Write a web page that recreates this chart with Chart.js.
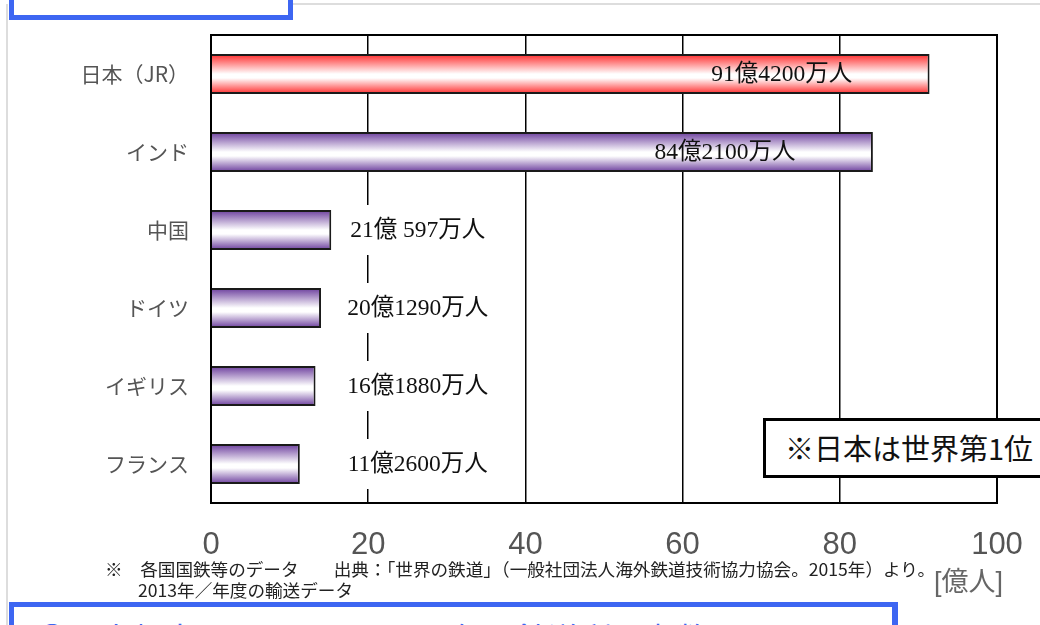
<!DOCTYPE html>
<html>
<head>
<meta charset="utf-8">
<script src="https://cdn.jsdelivr.net/npm/chart.js@4/dist/chart.umd.min.js"></script>
<style>
body{margin:0;background:#fff;font-family:"Noto Sans CJK JP",sans-serif;}
#wrap{position:relative;width:1040px;height:625px;overflow:hidden;}
#myChart{position:absolute;left:0;top:0;}
.frameL{position:absolute;left:6px;top:4px;width:2px;height:625px;background:#ddd;}
.frameT{position:absolute;left:290px;top:3px;width:760px;height:2px;background:#ddd;}
.boxTop{position:absolute;left:9px;top:-20px;width:274px;height:30px;border:5px solid #3d66f2;background:#fff;}
.boxBot{position:absolute;left:9px;top:602px;width:878px;height:60px;border:5px solid #3d66f2;border-right-width:6px;background:#fff;}
.boxBot span{position:absolute;left:22px;top:10px;font-size:32px;line-height:40px;color:#3d66f2;white-space:nowrap;}
.note{position:absolute;left:763px;top:418px;width:300px;height:54px;border:3px solid #000;background:#fff;}
.note span{position:absolute;left:19px;top:5px;font-size:29px;color:#111;white-space:nowrap;}
.unit{position:absolute;left:934px;top:560px;font-size:27px;color:#666;font-family:"Liberation Sans","Noto Sans CJK JP",sans-serif;}
.foot{position:absolute;left:105px;font-size:17.6px;color:#222;white-space:nowrap;line-height:21px;}
</style>
</head>
<body>
<div id="wrap">
<div class="frameL"></div>
<div class="frameT"></div>
<div class="boxTop"></div>
<canvas id="myChart" width="1040" height="625"></canvas>
<div class="note"><span>※日本は世界第1位</span></div>
<div class="foot" style="top:558px">※　各国国鉄等のデータ　　出典：「世界の鉄道」（一般社団法人海外鉄道技術協力協会。2015年）より。</div>
<div class="foot" style="top:579px;left:138px">2013年／年度の輸送データ</div>
<div class="unit">[億人]</div>
<div class="boxBot"><span>②三大都市圏における人口と年間鉄道利用者数</span></div>
</div>
<script>
var categories = ['日本（JR）','インド','中国','ドイツ','イギリス','フランス'];
// bar lengths as drawn in the picture (億人)
var barValues = [91.42, 84.21, 15.3, 14.0, 13.3, 11.3];
var valueLabels = ['91億4200万人','84億2100万人','21億 597万人','20億1290万人','16億1880万人','11億2600万人'];
var xTicks = [0,20,40,60,80,100];

function barGradient(ctx){
    var chart = ctx.chart;
    if(!chart.chartArea) return '#ffffff';
    var yc = chart.scales.y.getPixelForValue(ctx.dataIndex);
    var g = chart.ctx.createLinearGradient(0, yc-20, 0, yc+20);
    var c = ctx.dataIndex==0 ? '#ff2a2a' : '#6a3c9c';
    g.addColorStop(0, c);
    g.addColorStop(0.5, '#ffffff');
    g.addColorStop(0.6, '#ffffff');
    g.addColorStop(1, c);
    return g;
}

var labelPlugin = {
    id:'labels',
    afterDatasetsDraw: function(chart){
        var c = chart.ctx, xs = chart.scales.x, ys = chart.scales.y;
        c.save();
        c.font = '23.5px "Liberation Serif","Noto Sans CJK JP",serif';
        c.textAlign = 'center';
        c.textBaseline = 'middle';
        for(var i=0;i<barValues.length;i++){
            var y = ys.getPixelForValue(i);
            var cx;
            if(barValues[i] > 50){
                cx = xs.getPixelForValue(barValues[i]-18.8);
            } else {
                cx = xs.getPixelForValue(26.3);
                var w = c.measureText(valueLabels[i]).width + 16;
                c.fillStyle = '#fff';
                c.fillRect(cx-w/2, y-25, w, 50);
            }
            c.fillStyle = '#111';
            c.fillText(valueLabels[i], cx, y+1);
        }
        // plot frame
        var a = chart.chartArea;
        c.strokeStyle = '#000';
        c.lineWidth = 2;
        c.strokeRect(a.left, a.top, a.right-a.left, a.bottom-a.top);
        c.restore();
    }
};

var chartdata = {
    labels: categories,
    datasets: [{
        data: barValues,
        backgroundColor: barGradient,
        borderColor: '#1a1a1a',
        borderWidth: 2,
        borderSkipped: 'start',
        barPercentage: 0.6,
        categoryPercentage: 0.86
    }]
};

var options = {
    indexAxis: 'y',
    responsive: false,
    animation: false,
    layout: {padding: {top:35, right:43, left:0, bottom:0}},
    plugins: {legend:{display:false}, tooltip:{enabled:false}},
    scales: {
        x: {
            min: 0, max: 100,
            afterBuildTicks: function(s){ s.ticks = xTicks.map(function(v){return {value:v};}); },
            afterFit: function(s){ s.height = 122; s.paddingLeft = 0; s.paddingRight = 0; },
            ticks: {color:'#555', font:{size:31, family:'"Liberation Sans", sans-serif'}, padding:24, maxRotation:0},
            grid: {color:'#000', lineWidth:1.5, drawTicks:false},
            border: {display:false}
        },
        y: {
            afterFit: function(s){ s.width = 211; },
            ticks: {color:'#555', font:{size:21, family:'"Noto Sans CJK JP", sans-serif'}, padding:22},
            grid: {display:false, drawTicks:false},
            border: {display:false}
        }
    }
};

var graph = new Chart(document.getElementById('myChart'), {
    type: 'bar',
    data: chartdata,
    options: options,
    plugins: [labelPlugin]
});
</script>
</body>
</html>
